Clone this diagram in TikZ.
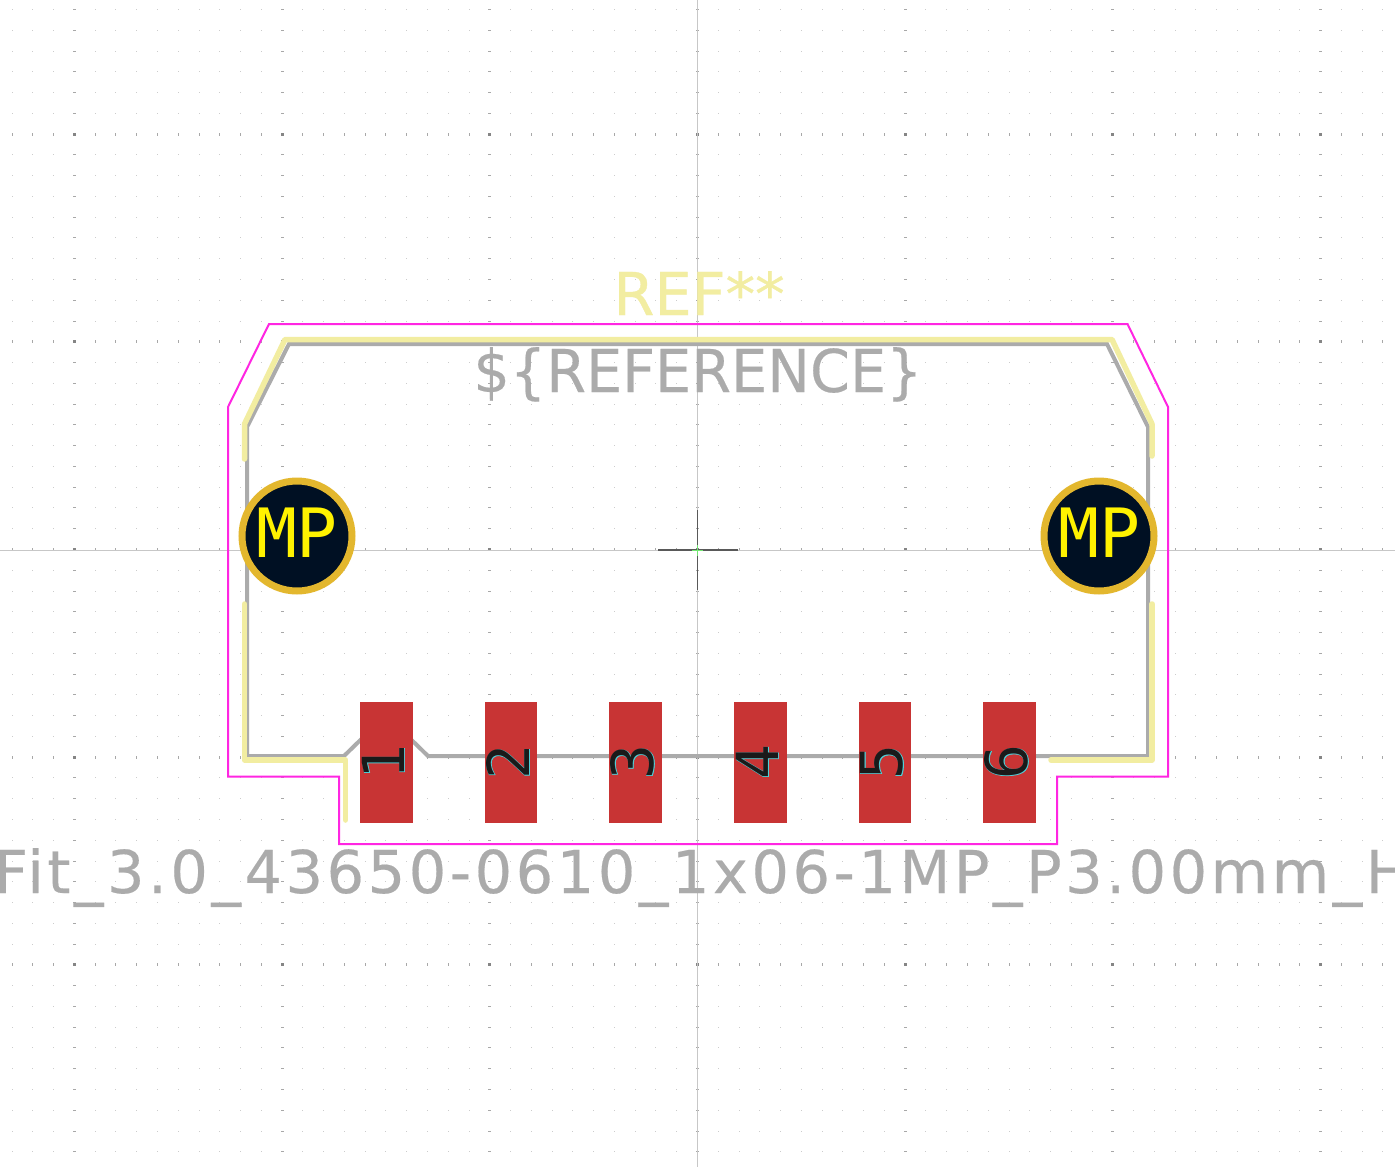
\documentclass[tikz,border=0pt]{standalone}
\usepackage{fontspec}
\newfontfamily\strokefont[FakeBold=0.6]{DejaVu Sans}
\newfontfamily\tightfont[FakeStretch=0.97,FakeBold=0.3]{DejaVu Sans}
\newfontfamily\longfont[LetterSpace=6,FakeBold=0.3]{DejaVu Sans}
\newfontfamily\mpfont{DejaVu Sans Mono}
\newfontfamily\digitfont{DejaVu Sans Mono}
\newfontfamily\digitrim[FakeBold=1.2]{DejaVu Sans Mono}
\definecolor{fabgray}{HTML}{ABABAB}
\definecolor{silkyellow}{HTML}{F2EDA1}
\definecolor{crtmagenta}{HTML}{FF26E2}
\definecolor{padred}{HTML}{C83434}
\definecolor{holenavy}{HTML}{001023}
\definecolor{holegold}{HTML}{E3B72E}
\definecolor{padrim}{HTML}{4FD0D8}
\definecolor{digitdark}{HTML}{1A1A1A}
\newcommand{\padnum}[1]{\rlap{\digitrim\color{padrim}#1}{\digitfont\color{digitdark}#1}}
\tikzset{
  fabline/.style={draw=fabgray,line width=4pt,line join=miter},
  silkline/.style={draw=silkyellow,line width=5.5pt,line cap=round,line join=round},
  crtline/.style={draw=crtmagenta,line width=2pt,line join=miter},
  axisline/.style={draw=black!22,line width=1pt},
  crossline/.style={draw=black!65,line width=1.2pt},
  padbox/.style={rectangle,fill=padred,minimum width=52.5pt,minimum height=121pt,inner sep=0pt},
  padlabel/.style={rotate=90,inner sep=0pt,font=\fontsize{58}{58}\selectfont},
  mounthole/.style={circle,fill=holenavy,draw=holegold,line width=7pt,minimum size=110pt,inner sep=0pt,
    text=yellow,font=\mpfont\fontsize{68}{68}\selectfont},
  fieldtext/.style={inner sep=0pt,text=fabgray,font=\fontsize{59}{59}\selectfont}
}
\begin{document}
\begin{tikzpicture}[x=1pt,y=-1pt]
  \clip (0,0) rectangle (1395,1167);
  \fill[white] (0,0) rectangle (1395,1167);
  % grid
  \foreach \gx in {-33,...,33} {
    \foreach \gy in {-26,...,29} {
      \pgfmathtruncatemacro\gcol{mod(abs(\gx),10)==0 ? 1 : 0}
      \pgfmathtruncatemacro\grow{mod(abs(\gy),10)==0 ? 1 : 0}
      \pgfmathsetmacro\dotw{\gcol==1 ? 1.5 : 0.5}
      \pgfmathsetmacro\doth{\grow==1 ? 1.5 : 0.5}
      \pgfmathtruncatemacro\dotk{20+14*(\gcol+\grow)}
      \fill[black!\dotk] ({697.5+20.77*\gx-\dotw},{549.5+20.77*\gy-\doth})
        rectangle ({697.5+20.77*\gx+\dotw},{549.5+20.77*\gy+\doth});
    }
  }
  \draw[axisline] (697.5,0) -- (697.5,1167);
  \draw[axisline] (0,550) -- (1395,550);
  \draw[crossline] (658,550) -- (738,550);
  \draw[crossline] (697.5,510) -- (697.5,590);
  \draw[draw=green!50!white!90!black,line width=1pt] (692,550) -- (703,550);
  \draw[draw=green!50!white!90!black,line width=1pt] (697.5,545) -- (697.5,556);
  % fab outline
  \draw[fabline] (247,427) -- (289,344) -- (1107,344) -- (1148,427) -- (1148,756) -- (428,756)
    -- (386,715) -- (344,756) -- (247,756) -- cycle;
  % silkscreen
  \draw[silkline] (244.5,459) -- (244.5,424) -- (285,339.5) -- (1112,339.5) -- (1152,424) -- (1152,456);
  \draw[silkline] (244.5,604) -- (244.5,760) -- (345.5,760) -- (345.5,820);
  \draw[silkline] (1152,604) -- (1152,760) -- (1051,760);
  % courtyard
  \draw[crtline] (228,407) -- (269,324) -- (1127.5,324) -- (1168,407) -- (1168,776.5) -- (1057,776.5)
    -- (1057,844) -- (339,844) -- (339,776.5) -- (228,776.5) -- cycle;
  % pads
  \foreach \n/\px in {1/386.5,2/511,3/635.5,4/760.5,5/885,6/1009.5} {
    \node[padbox] (pad\n) at (\px,762.5) {};
    \node[padlabel] (num\n) at (\px-3,762) {\padnum{\n}};
  }
  % mounting holes
  \node[mounthole] (mpleft) at (297,536) {\raisebox{6pt}{MP}};
  \node[mounthole] (mpright) at (1099,536) {\raisebox{6pt}{MP}};
  % texts
  \node[fieldtext,text=silkyellow,font=\strokefont\fontsize{59}{59}\selectfont,anchor=base] (refvalue) at (699,315) {REF**};
  \node[fieldtext,font=\tightfont\fontsize{59}{59}\selectfont,anchor=base] (refname) at (698,392) {\$\{REFERENCE\}};
  \node[fieldtext,font=\longfont\fontsize{59}{59}\selectfont,anchor=base west] (fpname) at (-6,893) {Fit\_3.0\_43650-0610\_1x06-1MP\_P3.00mm\_H};
\end{tikzpicture}
\end{document}
